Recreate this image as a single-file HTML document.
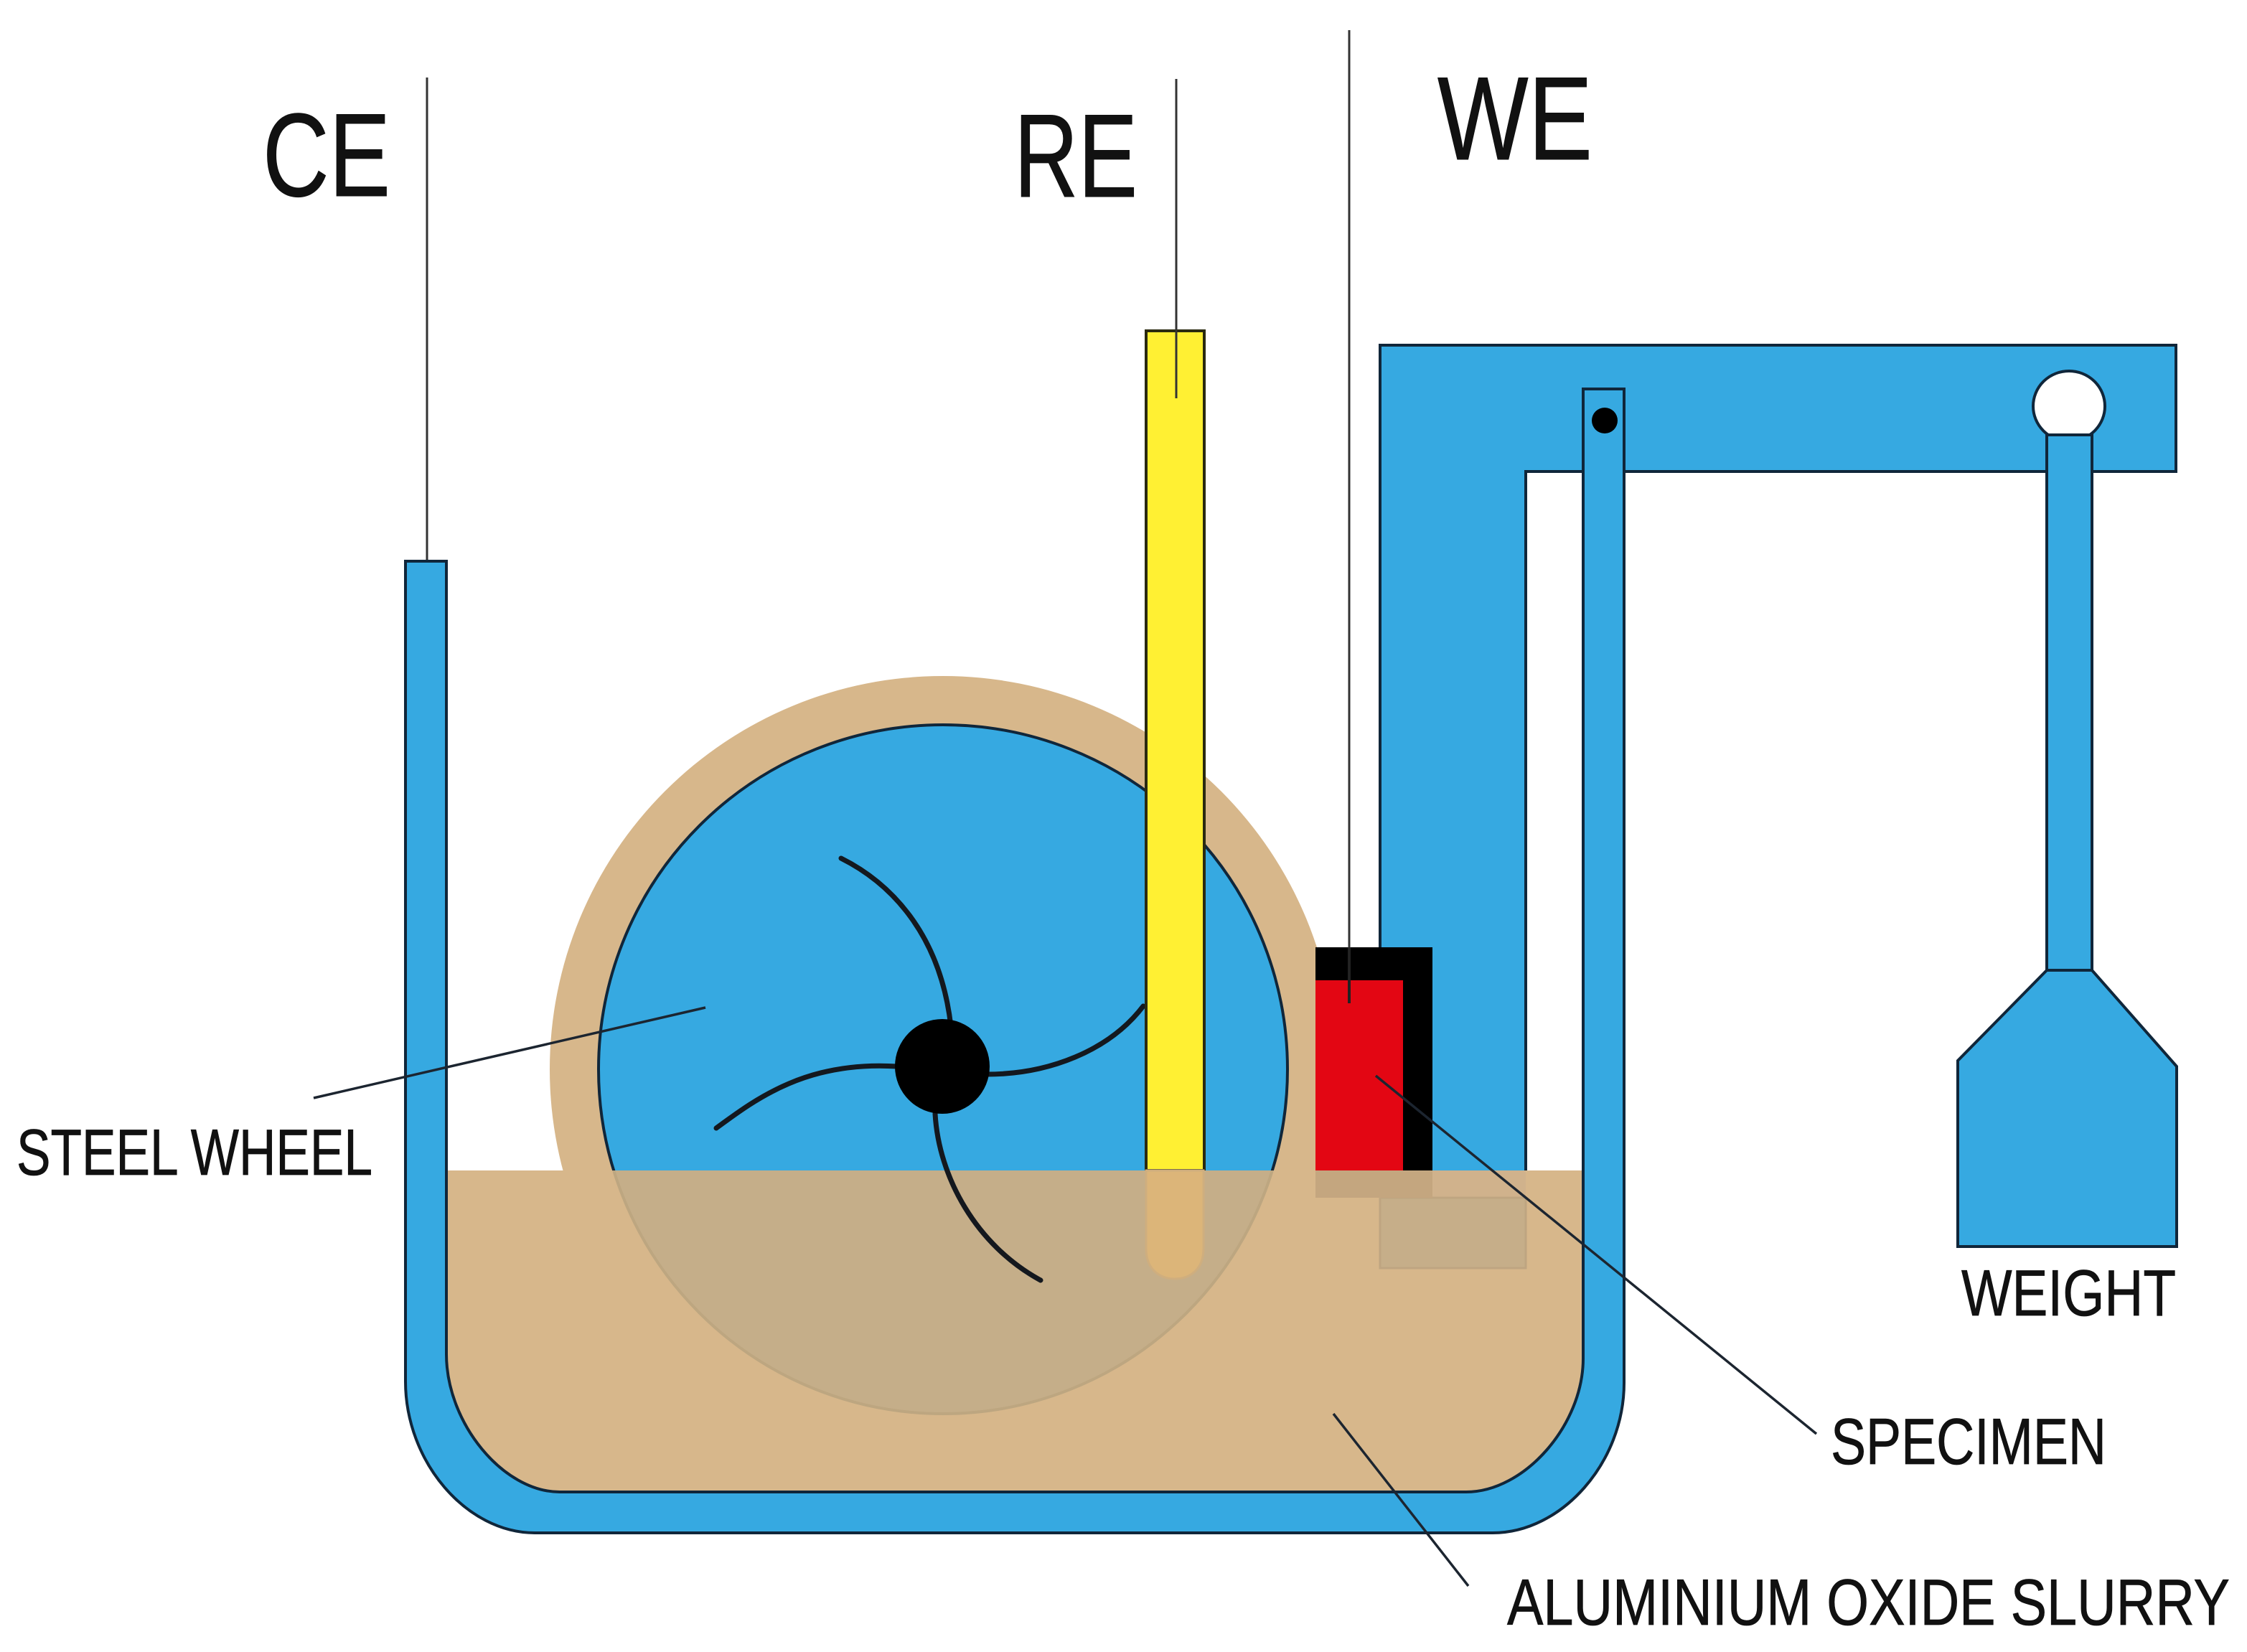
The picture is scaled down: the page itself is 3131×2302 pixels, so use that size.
<!DOCTYPE html>
<html>
<head>
<meta charset="utf-8">
<style>
html,body{margin:0;padding:0;background:#fff;width:3131px;height:2302px;overflow:hidden}
svg{display:block}
text{font-family:"Liberation Sans",sans-serif;fill:#111;stroke:#111}
</style>
</head>
<body>
<svg width="3131" height="2302" viewBox="0 0 3131 2302" xmlns="http://www.w3.org/2000/svg">
<defs>
<clipPath id="below"><rect x="0" y="1631" width="3131" height="671"/></clipPath>
</defs>

<!-- wires -->
<g stroke="#333" stroke-width="3" fill="none">
<line x1="595" y1="108" x2="595" y2="782"/>
<line x1="1880" y1="42" x2="1880" y2="1396"/>
</g>

<!-- wheel -->
<circle cx="1314" cy="1490" r="548" fill="#d7b78b"/>
<circle cx="1314" cy="1490" r="480" fill="#36a9e1" stroke="#10263a" stroke-width="4"/>
<g stroke="#14181e" stroke-width="7" fill="none" stroke-linecap="round">
<path d="M1172 1196 C1240 1230 1310 1300 1325 1430"/>
<path d="M1375 1497 C1460 1497 1545 1465 1593 1402"/>
<path d="M998 1572 C1055 1530 1125 1478 1250 1486"/>
<path d="M1303 1552 C1308 1640 1360 1735 1450 1784"/>
</g>
<circle cx="1313" cy="1486" r="66" fill="#000"/>

<!-- frame -->
<path d="M1923 1631 V481 H3032 V657 H2126 V1631 Z" fill="#36a9e1"/>
<path d="M1923 1631 V481 H3032 V657 H2126 V1631" fill="none" stroke="#10263a" stroke-width="4"/>

<!-- yellow reference tube -->
<rect x="1597" y="461" width="81" height="1170" fill="#fff033" stroke="#2a2a10" stroke-width="4"/>
<line x1="1639" y1="110" x2="1639" y2="555" stroke="#333" stroke-width="3"/>

<!-- specimen holder -->
<rect x="1833" y="1320" width="163" height="311" fill="#000"/>
<rect x="1833" y="1366" width="122" height="265" fill="#e30613"/>
<line x1="1880" y1="1320" x2="1880" y2="1398" stroke="#222" stroke-width="4"/>

<!-- slurry -->
<path d="M622 1631 H2206 V1893 C2206 1986 2124 2079 2043 2079 H780 C701 2079 622 1983 622 1887 Z" fill="#d7b78b"/>
<g clip-path="url(#below)">
<circle cx="1314" cy="1490" r="480" fill="#c5ae89" stroke="#bda680" stroke-width="4"/>
<path d="M1303 1552 C1308 1640 1360 1735 1450 1784" stroke="#14181e" stroke-width="7" fill="none" stroke-linecap="round"/>
</g>
<rect x="1923" y="1631" width="203" height="136" fill="#d0b28c"/>
<rect x="1923" y="1669" width="203" height="98" fill="#c6ae89" stroke="#bfa581" stroke-width="3"/>
<rect x="1833" y="1631" width="163" height="38" fill="#c4a67f"/>
<path d="M1597 1631 H1677 V1740 C1677 1768 1659 1782 1637 1782 C1615 1782 1597 1768 1597 1740 Z" fill="#dcb579" stroke="#cfae7e" stroke-width="3"/>

<!-- tank -->
<path d="M565 782 H622 V1887 C622 1983 701 2079 780 2079 H2043 C2124 2079 2206 1986 2206 1893 V542 H2263 V1927 C2263 2038 2176 2136 2080 2136 H745 C650 2136 565 2037 565 1925 Z" fill="#36a9e1" stroke="#10263a" stroke-width="4" stroke-linejoin="miter"/>
<ellipse cx="2236" cy="586" rx="18" ry="18" fill="#000"/>

<!-- weight -->
<ellipse cx="2883" cy="566" rx="50" ry="49" fill="#fff" stroke="#10263a" stroke-width="4"/>
<rect x="2852" y="606" width="63" height="746" fill="#36a9e1" stroke="#10263a" stroke-width="4"/>
<path d="M2852 1352 H2915 L3033 1486 V1737 H2728 V1478 Z" fill="#36a9e1" stroke="#10263a" stroke-width="4"/>

<!-- leaders -->
<g stroke="#1c2530" stroke-width="3.5" fill="none">
<line x1="437" y1="1530" x2="983" y2="1404"/>
<line x1="1917" y1="1499" x2="2531" y2="1998"/>
<line x1="1858" y1="1970" x2="2046" y2="2210"/>
</g>

<!-- labels -->
<text x="366" y="273" font-size="165" stroke-width="1" textLength="178" lengthAdjust="spacingAndGlyphs">CE</text>
<text x="1413" y="274" font-size="165" stroke-width="1" textLength="172" lengthAdjust="spacingAndGlyphs">RE</text>
<text x="2003" y="222" font-size="165" stroke-width="1" textLength="216" lengthAdjust="spacingAndGlyphs">WE</text>
<text x="23" y="1637" font-size="91" stroke-width="0.8" textLength="496" lengthAdjust="spacingAndGlyphs">STEEL WHEEL</text>
<text x="2733" y="1833" font-size="91" stroke-width="0.8" textLength="299" lengthAdjust="spacingAndGlyphs">WEIGHT</text>
<text x="2551" y="2040" font-size="91" stroke-width="0.8" textLength="384" lengthAdjust="spacingAndGlyphs">SPECIMEN</text>
<text x="2100" y="2264" font-size="91" stroke-width="0.8" textLength="1007" lengthAdjust="spacingAndGlyphs">ALUMINIUM OXIDE SLURRY</text>
</svg>
</body>
</html>
